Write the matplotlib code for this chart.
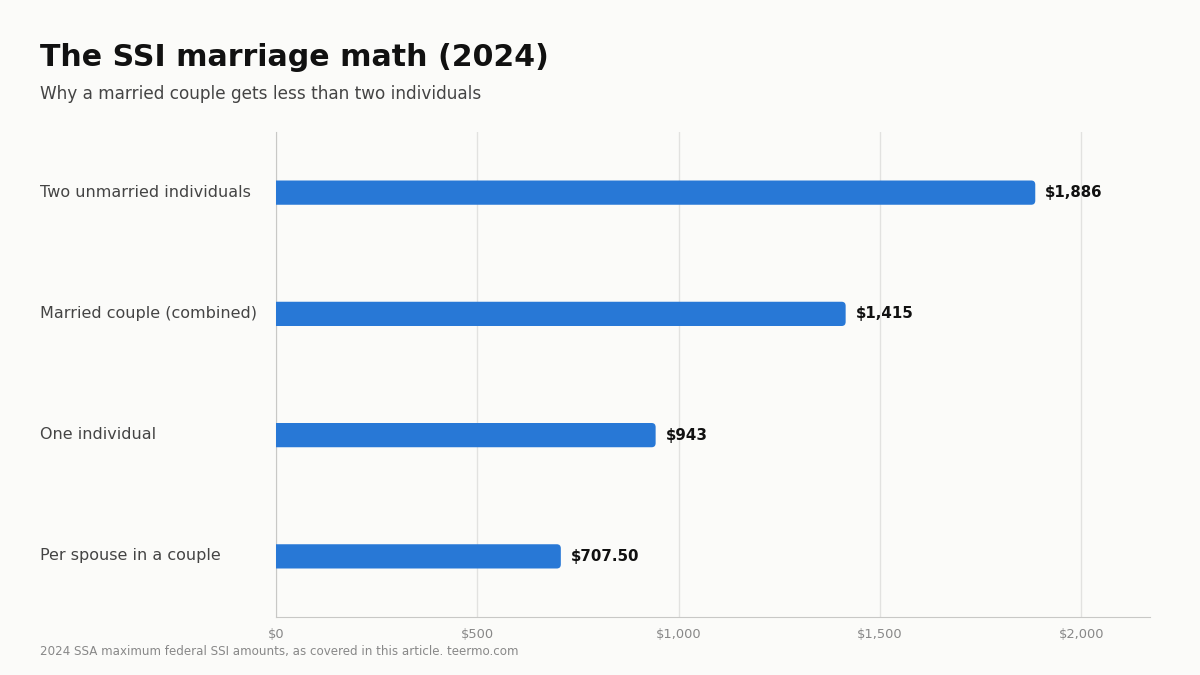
import matplotlib.pyplot as plt
from matplotlib.patches import FancyBboxPatch

plt.rcParams['font.family'] = ['DejaVu Sans']

# data
categories = ["Two unmarried individuals", "Married couple (combined)",
              "One individual", "Per spouse in a couple"]
amounts = [1886, 1415, 943, 707.50]
value_labels = ["$1,886", "$1,415", "$943", "$707.50"]
xticks = [0, 500, 1000, 1500, 2000]
xtick_labels = ["$0", "$500", "$1,000", "$1,500", "$2,000"]

bg = "#fbfbf9"
bar_color = "#2878d6"

fig = plt.figure(figsize=(12, 6.75), dpi=100, facecolor=bg)
ax = fig.add_axes([276 / 1200, 1 - 617 / 675, (1150 - 276) / 1200, (617 - 132) / 675])
ax.set_facecolor(bg)

ax.set_xlim(0, 2171)
ax.set_ylim(3.5, -0.5)

bar_h = 0.2
for i, v in enumerate(amounts):
    # rounded right end; left end starts below 0 so it gets clipped square
    ax.add_patch(FancyBboxPatch((-30, i - bar_h / 2), v + 30, bar_h,
                                boxstyle="round,pad=0,rounding_size=10",
                                mutation_aspect=0.0034,
                                fc=bar_color, ec="none", zorder=3))
    ax.text(v + 25, i, value_labels[i], va="center", ha="left",
            fontsize=10.8, fontweight="bold", color="#111111", zorder=4)

ax.set_yticks(range(len(categories)))
ax.set_yticklabels([])
for i, c in enumerate(categories):
    ax.text(40 / 1200, 1 - (192 + i * 121.3) / 675, c, transform=fig.transFigure,
            va="center", ha="left", fontsize=11.5, color="#444444")

ax.set_xticks(xticks)
ax.set_xticklabels(xtick_labels, fontsize=9.4, color="#888888")
ax.tick_params(axis="both", length=0)
ax.tick_params(axis="x", pad=8)
ax.grid(axis="x", color="#e2e2e0", linewidth=1, zorder=0)
ax.set_axisbelow(True)

for s in ["top", "right"]:
    ax.spines[s].set_visible(False)
ax.spines["left"].set_color("#c8c8c6")
ax.spines["bottom"].set_color("#c8c8c6")

fig.text(40 / 1200, 1 - 58 / 675, "The SSI marriage math (2024)",
         fontsize=21.6, fontweight="bold", color="#111111", va="center")
fig.text(40 / 1200, 1 - 94 / 675, "Why a married couple gets less than two individuals",
         fontsize=12.2, color="#444444", va="center")
fig.text(40 / 1200, 1 - 652 / 675,
         "2024 SSA maximum federal SSI amounts, as covered in this article. teermo.com",
         fontsize=8.6, color="#888888", va="center")

fig.savefig("out.png", dpi=100, facecolor=bg)
